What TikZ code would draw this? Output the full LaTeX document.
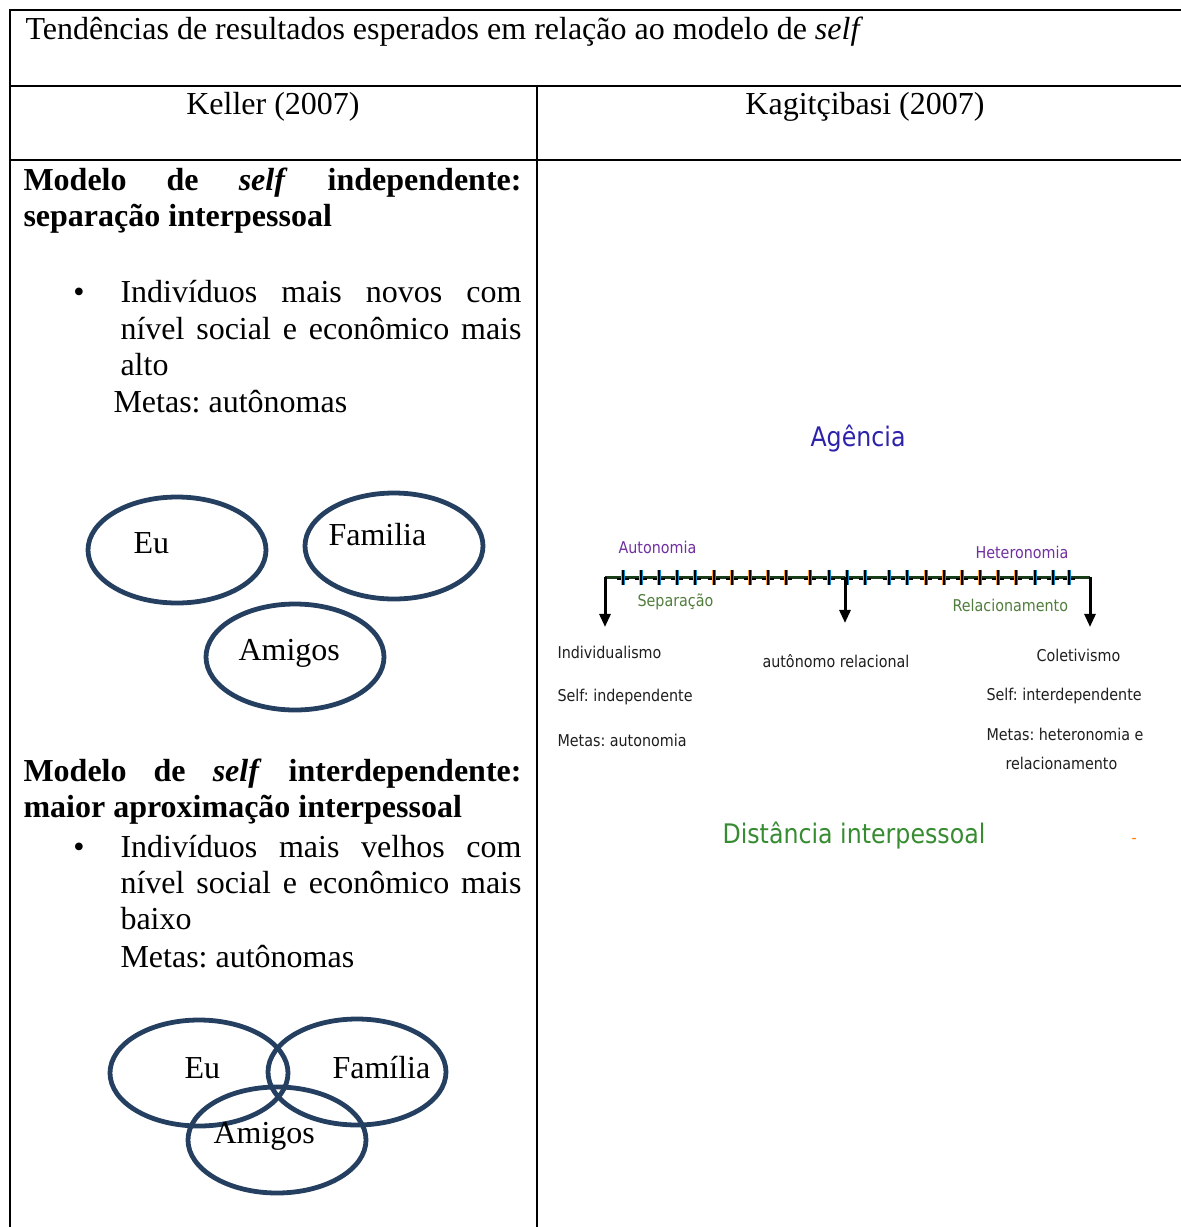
\documentclass[tikz,border=0pt]{standalone}
\usepackage{fontspec}
\setmainfont{Liberation Serif}
\newfontfamily\tahoma[FakeStretch=0.88,WordSpace=1.6]{DejaVu Sans}
\newfontfamily\tahomabig[FakeStretch=0.88]{DejaVu Sans}
\usetikzlibrary{shapes.geometric,arrows.meta}
\frenchspacing
\newdimen\pxu \pxu=0.375pt
\definecolor{navy}{RGB}{36,63,96}
\definecolor{agency}{RGB}{45,35,170}
\definecolor{lilac}{RGB}{112,48,160}
\definecolor{olive}{RGB}{80,125,60}
\definecolor{leaf}{RGB}{55,140,50}
\definecolor{ink}{RGB}{30,30,30}
\definecolor{axis}{RGB}{25,60,25}
\tikzset{
  txt/.style = {inner sep=0pt, anchor=base west, font=\fontsize{12}{14}\selectfont},
  ctxt/.style = {txt, anchor=base},
  circ/.style = {draw=navy, line width=4.8\pxu, ellipse, inner sep=0pt,
                 minimum width=178\pxu, minimum height=106\pxu},
  lab/.style = {inner sep=0pt, anchor=base west, text=ink,
                font=\tahoma\fontsize{6.1}{7}\selectfont},
  big/.style = {inner sep=0pt, anchor=base west,
                font=\tahomabig\fontsize{10.1}{12}\selectfont},
  seta/.style = {-{Triangle[width=4.1pt,length=4.9pt]}, line width=3\pxu},
  grade/.style = {line width=1.6\pxu}
}
\newcommand{\jline}[2]{\makebox[#1\pxu][s]{#2}}

\begin{document}
\begin{tikzpicture}[x=0.375pt,y=-0.375pt]
  \useasboundingbox (0,0) rectangle (1181,1227);
  % table grid
  \draw[grade] (1181,10) -- (10,10) -- (10,1227);
  \draw[grade] (10,86) -- (1181,86);
  \draw[grade] (10,160) -- (1181,160);
  \draw[grade] (537,86) -- (537,1227);

  % headings
  \node[txt] (titulo) at (25,39) {Tendências de resultados esperados em relação ao modelo de \textit{self}};
  \node[ctxt] (keller) at (273,114) {Keller (2007)};
  \node[ctxt] (kagit) at (865,114) {Kagitçibasi (2007)};

  % left column, independent self
  \node[txt] (ind1) at (23,190) {\textbf{\jline{498}{Modelo de \textit{self} independente:}}};
  \node[txt] (ind2) at (23,226) {\textbf{separação interpessoal}};
  \node[ctxt] (bul1) at (79,302) {\textbullet};
  \node[txt] (ind3) at (120,302) {\jline{401}{Indivíduos mais novos com}};
  \node[txt] (ind4) at (120,339) {\jline{401}{nível social e econômico mais}};
  \node[txt] (ind5) at (120,375) {alto};
  \node[txt] (ind6) at (113,412) {Metas: autônomas};

  \node[circ] (eu1) at (177,550) {};
  \node[circ] (fam1) at (394,546) {};
  \node[circ] (ami1) at (295,657) {};
  \node[txt] (teu1) at (133,553) {Eu};
  \node[txt] (tfam1) at (328,545) {Familia};
  \node[txt] (tami1) at (238,660) {Amigos};

  % left column, interdependent self
  \node[txt] (int1) at (23,781) {\textbf{\jline{498}{Modelo de \textit{self} interdependente:}}};
  \node[txt] (int2) at (23,817) {\textbf{maior aproximação interpessoal}};
  \node[ctxt] (bul2) at (79,857) {\textbullet};
  \node[txt] (int3) at (120,857) {\jline{401}{Indivíduos mais velhos com}};
  \node[txt] (int4) at (120,893) {\jline{401}{nível social e econômico mais}};
  \node[txt] (int5) at (120,929) {baixo};
  \node[txt] (int6) at (120,967) {Metas: autônomas};

  \node[circ] (eu2) at (199,1073) {};
  \node[circ] (fam2) at (357,1072) {};
  \node[circ] (ami2) at (277,1140) {};
  \node[txt] (teu2) at (184,1078) {Eu};
  \node[txt] (tfam2) at (332,1078) {Família};
  \node[txt] (tami2) at (213,1143) {Amigos};

  % right column, continuum
  \node[big,text=agency] (agencia) at (810,446) {Agência};
  \node[lab,text=lilac] (auto) at (618,553) {Autonomia};
  \node[lab,text=lilac] (hetero) at (975,558) {Heteronomia};

  \coordinate (aL) at (605,577);
  \coordinate (aM) at (845,577);
  \coordinate (aR) at (1090,577);
  \draw[axis,line width=3\pxu] (aL) -- (aR);
  \foreach \t in {623,641,659,677,695,714,732,750,768,786,810,829,847,865,
                  889,907,926,944,962,980,998,1016,1035,1053,1069}{
    \draw[black,line width=2\pxu] (\t-6,578.5) -- (\t+6,578.5);
    \draw[orange!80,line width=0.8\pxu] (\t-1.4,570) -- (\t-1.4,585);
    \draw[cyan!70!blue,line width=0.8\pxu] (\t+1.4,570) -- (\t+1.4,585);
    \draw[black,line width=1.6\pxu] (\t,570) -- (\t,585);
  }
  \coordinate (eL) at (605,627);
  \coordinate (eM) at (845,623);
  \coordinate (eR) at (1090,627);
  \draw[seta] (aL) -- (eL);
  \draw[seta] (aM) -- (eM);
  \draw[seta] (aR) -- (eR);

  \node[lab,text=olive] (sep) at (637,606) {Separação};
  \node[lab,text=olive] (rel) at (952,611) {Relacionamento};

  \node[lab] (indiv) at (557,658) {Individualismo};
  \node[lab] (selfi) at (557,701) {Self: independente};
  \node[lab] (metai) at (557,746) {Metas: autonomia};
  \node[lab] (autrel) at (762,667) {autônomo relacional};
  \node[lab] (colet) at (1036,661) {Coletivismo};
  \node[lab] (selfc) at (986,700) {Self: interdependente};
  \node[lab] (metac) at (986,740) {Metas: heteronomia e};
  \node[lab] (metac2) at (1005,769) {relacionamento};

  \node[big,text=leaf] (dist) at (722,843) {Distância interpessoal};
  \node[lab,text=orange] (traco) at (1131,843) {-};
\end{tikzpicture}
\end{document}
